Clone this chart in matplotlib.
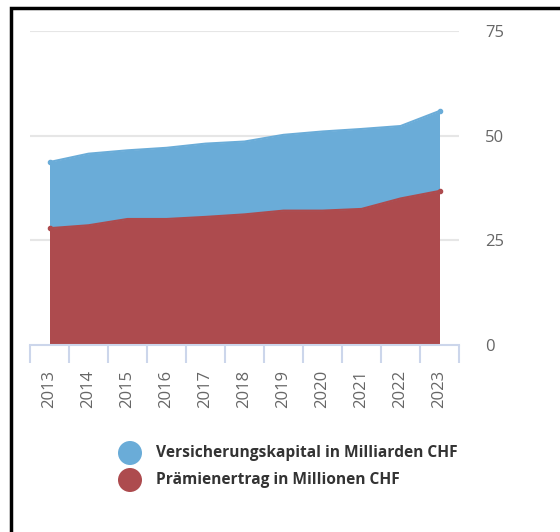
import matplotlib
matplotlib.use("Agg")
import matplotlib.pyplot as plt
from matplotlib.patches import Rectangle, Ellipse
import numpy as np

years = ["2013", "2014", "2015", "2016", "2017", "2018", "2019", "2020", "2021", "2022", "2023"]
kapital = [43.7, 45.7, 46.5, 47.1, 48.1, 48.6, 50.2, 51.0, 51.6, 52.3, 55.9]
praemien = [27.9, 28.6, 30.1, 30.1, 30.6, 31.2, 32.1, 32.1, 32.5, 35.0, 36.8]
series_names = ["Versicherungskapital in Milliarden CHF", "Prämienertrag in Millionen CHF"]
y_ticks = [0, 25, 50, 75]

BLUE = "#6aacd8"
RED = "#ad4b4e"
W, H = 560, 532

plt.rcParams['font.family'] = ['Open Sans', 'DejaVu Sans']
fig = plt.figure(figsize=(W / 100, H / 100), dpi=100)
ax = fig.add_axes([30 / W, 1 - 345 / H, (459 - 30) / W, (345 - 31) / H])

x = np.arange(len(years))
ax.fill_between(x, 0, kapital, color=BLUE, lw=0, zorder=2)
ax.plot(x, kapital, color=BLUE, lw=1.5, zorder=3)
ax.fill_between(x, 0, praemien, color=RED, lw=0, zorder=4)
ax.plot(x, praemien, color=RED, lw=1.5, zorder=5)
ax.plot([x[0], x[-1]], [kapital[0], kapital[-1]], 'o', color=BLUE, ms=3, zorder=6)
ax.plot([x[0], x[-1]], [praemien[0], praemien[-1]], 'o', color=RED, ms=3, zorder=6)

ax.set_xlim(-0.5, len(years) - 0.5)
ax.set_ylim(0, 75)

for s in ["top", "left", "right"]:
    ax.spines[s].set_visible(False)
ax.spines["bottom"].set_color("#ccd6eb")
ax.spines["bottom"].set_linewidth(1.5)
ax.spines["bottom"].set_zorder(7)

for v in y_ticks[1:]:
    ax.axhline(v, color="#e6e6e6", lw=1.5, zorder=1)

ax.set_xticks(x)
ax.set_xticklabels(years, rotation=90, va="top", ha="center", fontsize=12, color="#666666")
ax.tick_params(axis="x", which="major", length=0, pad=18)
ax.set_xticks(np.arange(-0.5, len(years)), minor=True)
ax.tick_params(axis="x", which="minor", length=13, width=1.5, color="#ccd6eb", direction="out")

ax.yaxis.tick_right()
ax.set_yticks(y_ticks)
ax.set_yticklabels([str(v) for v in y_ticks], fontsize=12, color="#666666")
ax.tick_params(axis="y", length=0, pad=19)

# frame
fig.add_artist(Rectangle((11 / W, -0.1), 2, 1.1 - 8 / H, transform=fig.transFigure,
                         fill=False, edgecolor="black", lw=2.5, clip_on=False))

# legend
for i, (name, col) in enumerate(zip(series_names, [BLUE, RED])):
    cy = [453, 480][i]
    fig.add_artist(Ellipse((130 / W, 1 - cy / H), 24 / W, 24 / H, transform=fig.transFigure,
                           color=col, lw=0))
    fig.text(156 / W, 1 - cy / H, name, fontsize=11.2, fontweight="bold", color="#333333",
             va="center", ha="left")

fig.savefig("out.png", dpi=100)
